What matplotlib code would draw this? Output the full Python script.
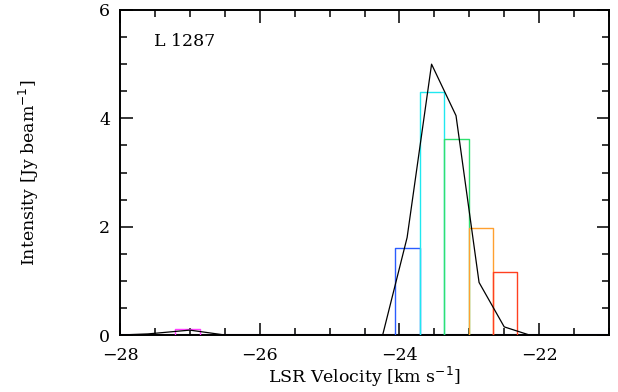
import matplotlib
matplotlib.use("Agg")
import matplotlib.pyplot as plt
from matplotlib.ticker import MultipleLocator
import numpy as np

# Channel bars (left edge, width, height, colour)
bar_left = [-27.21, -24.057, -23.70, -23.355, -23.01, -22.66]
bar_width = [0.355, 0.357, 0.345, 0.345, 0.35, 0.34]
bar_height = [0.12, 1.61, 4.48, 3.62, 1.97, 1.16]
bar_color = ["#ff40ff", "#2a5cff", "#20e8f0", "#30e070", "#ffa030", "#ff4020"]

# Reference spectrum (black line)
spec_v = [-28.0, -27.6, -27.0, -26.5, -24.24, -23.89, -23.54, -23.19, -22.86, -22.50, -22.14, -21.0]
spec_i = [0.0, 0.02, 0.09, 0.0, 0.0, 1.80, 5.00, 4.05, 0.97, 0.15, 0.0, 0.0]

source = "L 1287"

plt.rcParams['font.family'] = ['DejaVu Serif']
fig = plt.figure(figsize=(6.18, 3.92), dpi=100)
ax = fig.add_axes([120/618, 1 - 335/392, (609-120)/618, (335-10)/392])

# baseline of zero channels
ax.plot([-28, -24.057], [0, 0], color="#502060", lw=1.5, zorder=2)
ax.plot([-24.057, -21], [0, 0], color="#303080", lw=1.5, zorder=2)

for l, w, h, c in zip(bar_left, bar_width, bar_height, bar_color):
    ax.plot([l, l, l + w, l + w], [0, h, h, 0], color=c, lw=1.0, zorder=3)

ax.plot(spec_v, spec_i, color="black", lw=0.9, zorder=4)

ax.set_xlim(-28, -21)
ax.set_ylim(0, 6)
ax.xaxis.set_major_locator(MultipleLocator(2))
ax.xaxis.set_minor_locator(MultipleLocator(0.5))
ax.yaxis.set_major_locator(MultipleLocator(2))
ax.yaxis.set_minor_locator(MultipleLocator(0.5))
ax.tick_params(which="both", direction="in", top=True, right=True, labelsize=12.5, width=1.1)
ax.tick_params(which="major", length=9)
ax.tick_params(axis="x", which="major", pad=9)
ax.tick_params(axis="y", which="major", pad=7)
ax.tick_params(which="minor", length=5)
for s in ax.spines.values():
    s.set_linewidth(1.4)

ax.set_xlabel("LSR Velocity [km s$^{-1}$]", fontsize=12.5, labelpad=0)
ax.set_ylabel("Intensity [Jy beam$^{-1}$]", fontsize=12.5, labelpad=42)
ax.text(0.07, 0.89, source, transform=ax.transAxes, fontsize=12.5)

fig.savefig("out.png", dpi=100)
